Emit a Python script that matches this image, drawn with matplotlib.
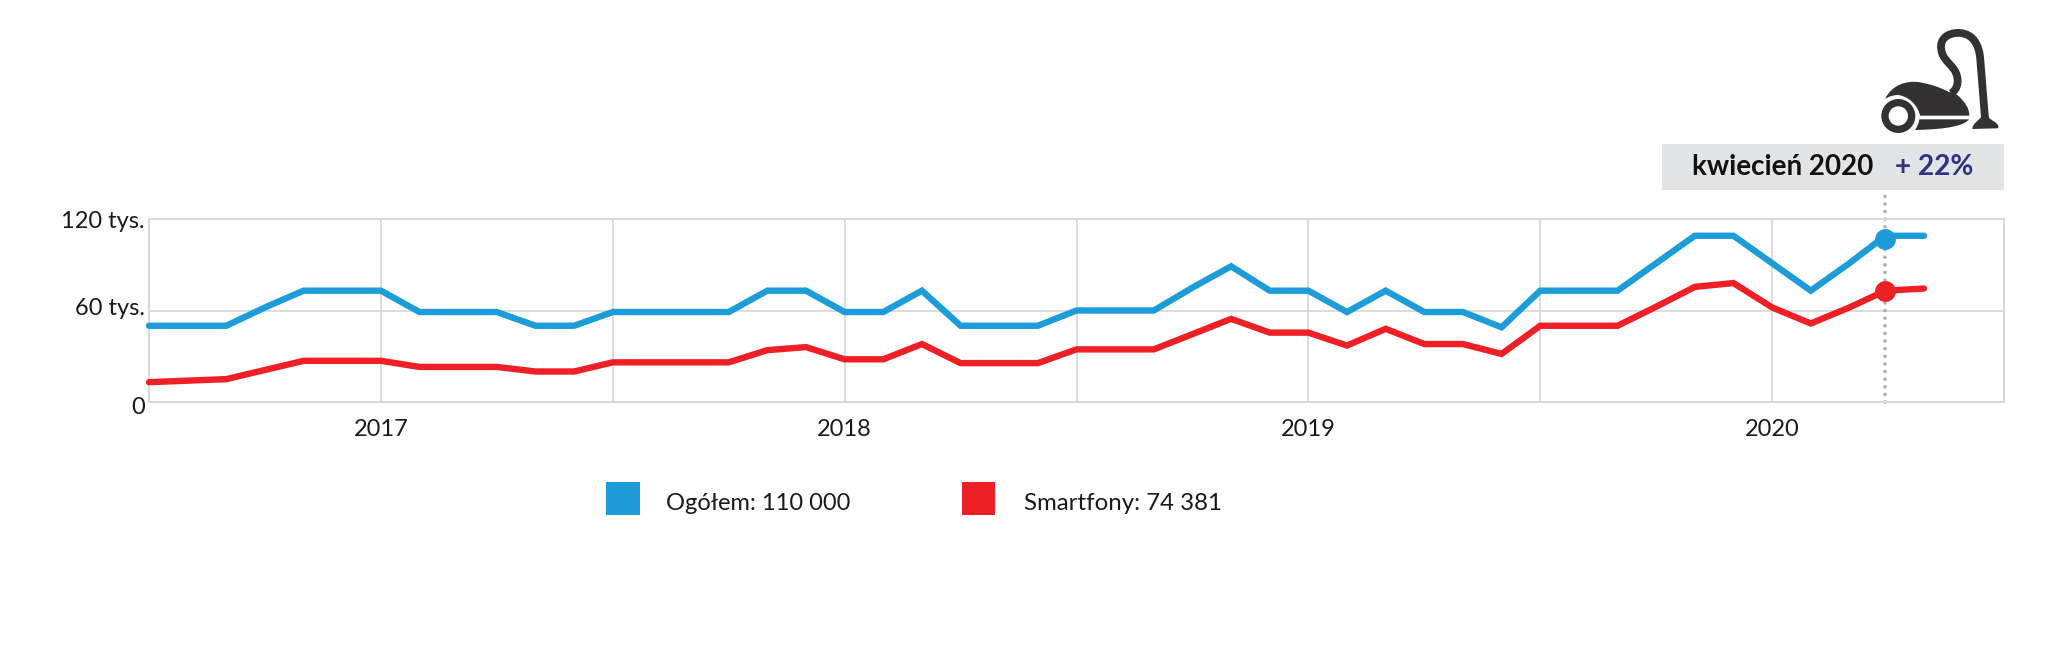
import matplotlib
matplotlib.use("Agg")
import matplotlib.pyplot as plt
from matplotlib.patches import PathPatch, Rectangle, Circle
from matplotlib.path import Path
from matplotlib.transforms import ScaledTranslation

plt.rcParams["font.family"] = ["Lato", "DejaVu Sans"]

# months counted from 2016-07, the last two points sit a bit before the month mark
months = list(range(45)) + [44.93, 45.93]
ogolem = [50, 50, 50, 62, 73, 73, 73, 59, 59, 59, 50, 50,
          59, 59, 59, 59, 73, 73, 59, 59, 73, 50, 50, 50,
          60, 60, 60, 75, 89, 73, 73, 59, 73, 59, 59, 49,
          73, 73, 73, 91, 109, 109, 91, 73, 91, 109, 109]
smartfony = [13, 14, 15, 21, 27, 27, 27, 23, 23, 23, 20, 20,
             26, 26, 26, 26, 34, 36, 28, 28, 38, 25.5, 25.5, 25.5,
             34.5, 34.5, 34.5, 44.5, 54.5, 45.5, 45.5, 37, 48, 38, 38, 31.5,
             50, 50, 50, 62.5, 75.5, 78, 62, 51.5, 62, 73, 74.4]
marker_month = 44.93
marker_values = [107, 72.8]
year_ticks = [6, 18, 30, 42]
year_labels = ["2017", "2018", "2019", "2020"]
mid_ticks = [12, 24, 36]
y_ticks = [0, 60, 120]
y_labels = ["0", "60 tys.", "120 tys."]

BLUE = "#1c9cd9"
RED = "#ee2025"
GRID = "#d9d9d9"
DARK = "#333132"
W, H = 2048, 647

fig = plt.figure(figsize=(W / 100, H / 100), dpi=100)
fig.patch.set_facecolor("white")

# overlay in pixel coordinates, for the box, the legend and the icon
over = fig.add_axes([0, 0, 1, 1], zorder=0)
over.set_xlim(0, W)
over.set_ylim(H, 0)
over.axis("off")

ax = fig.add_axes([149 / W, 1 - 402 / H, (2004 - 149) / W, (402 - 219) / H], zorder=1)
ax.patch.set_alpha(0)
ax.set_xlim(0, 48)
ax.set_ylim(0, 120)
for s in ax.spines.values():
    s.set_color(GRID)
    s.set_linewidth(1.5)
ax.set_xticks(year_ticks)
ax.set_xticklabels(year_labels, fontsize=17, color="#1a1a1a")
ax.set_xticks(mid_ticks, minor=True)
ax.set_yticks(y_ticks)
ax.set_yticklabels(y_labels, fontsize=17, color="#1a1a1a")
ax.tick_params(axis="both", which="both", length=0)
ax.tick_params(axis="x", pad=12)
ax.tick_params(axis="y", pad=3)
ax.grid(True, which="both", color=GRID, lw=1.3)
ax.set_axisbelow(True)

# y labels don't sit exactly on their gridlines in the original
for lab, dy in zip(ax.get_yticklabels(), [-2.5, 3, 0]):
    lab.set_transform(lab.get_transform() + ScaledTranslation(0, dy / 72, fig.dpi_scale_trans))

ax.plot(months, ogolem, color=BLUE, lw=4.6, solid_joinstyle="miter", solid_capstyle="round", clip_on=False, zorder=3)
ax.plot(months, smartfony, color=RED, lw=4.6, solid_joinstyle="miter", solid_capstyle="round", clip_on=False, zorder=3)

# dotted marker line runs up to the grey box
ax.plot([marker_month, marker_month], [0, 138], color="#adadad", lw=2.6,
        linestyle=(0, (0.01, 2.1)), dash_capstyle="round", clip_on=False, zorder=2)
ax.plot([marker_month], [marker_values[0]], "o", color=BLUE, ms=15, mew=0, zorder=4)
ax.plot([marker_month], [marker_values[1]], "o", color=RED, ms=15, mew=0, zorder=4)

# grey label
over.add_patch(Rectangle((1662, 144), 342, 46, fc="#e3e4e6", ec="none"))
over.text(1692, 167, "kwiecień 2020", fontsize=20, fontweight="bold", color="#111111", ha="left", va="center")
over.text(1895, 167, "+ 22%", fontsize=20.2, fontweight="bold", color="#2e3383", ha="left", va="center")

# legend
over.add_patch(Rectangle((606, 482), 34, 33, fc=BLUE, ec="none"))
over.add_patch(Rectangle((962, 482), 33, 33, fc=RED, ec="none"))
over.text(666, 504, "Ogółem: 110 000", fontsize=17, color="#1a1a1a", ha="left", va="center")
over.text(1024, 504, "Smartfony: 74 381", fontsize=17.3, color="#1a1a1a", ha="left", va="center")


def px(x, y):
    return (1650 + x / 3, y / 3)


def shape(cmds, **kw):
    verts, codes = [], []
    for code, pts in cmds:
        for p in pts:
            verts.append(px(*p))
            codes.append(code)
    over.add_patch(PathPatch(Path(verts, codes), **kw))


M, L, C = Path.MOVETO, Path.LINETO, Path.CURVE4

# body
shape([(M, [(705, 297)]),
       (C, [(725, 255), (770, 240), (810, 247)]),
       (C, [(840, 252), (870, 262), (895, 275)]),
       (L, [(922, 285)]),
       (C, [(945, 305), (958, 325), (958, 347)]),
       (L, [(810, 347)]),
       (C, [(805, 320), (780, 290), (745, 285)]),
       (C, [(730, 285), (715, 290), (705, 297)])], fc=DARK, ec="none")
# lower part of the body
shape([(M, [(808, 358)]),
       (L, [(957, 358)]),
       (C, [(945, 375), (900, 388), (795, 390)]),
       (C, [(802, 380), (806, 370), (808, 358)])], fc=DARK, ec="none")
# hose
shape([(M, [(903, 280)]),
       (C, [(925, 268), (930, 235), (912, 208)]),
       (C, [(895, 185), (872, 172), (873, 137)]),
       (C, [(875, 108), (905, 97), (930, 99)]),
       (C, [(970, 102), (988, 135), (991, 180)]),
       (L, [(1005, 355)])], fc="none", ec=DARK, lw=5.6)
# foot
shape([(M, [(967, 387)]),
       (C, [(968, 370), (985, 362), (995, 350)]),
       (L, [(1015, 350)]),
       (C, [(1022, 362), (1040, 365), (1045, 378)]),
       (C, [(1046, 383), (1044, 385), (1040, 385)]),
       (L, [(967, 387)])], fc=DARK, ec="none")
# wheel
cx, cy = px(745, 348)
over.add_patch(Circle((cx, cy), 17, fc=DARK, ec="none"))
over.add_patch(Circle((cx, cy), 9.7, fc="white", ec="none"))

fig.savefig("out.png", dpi=100)
